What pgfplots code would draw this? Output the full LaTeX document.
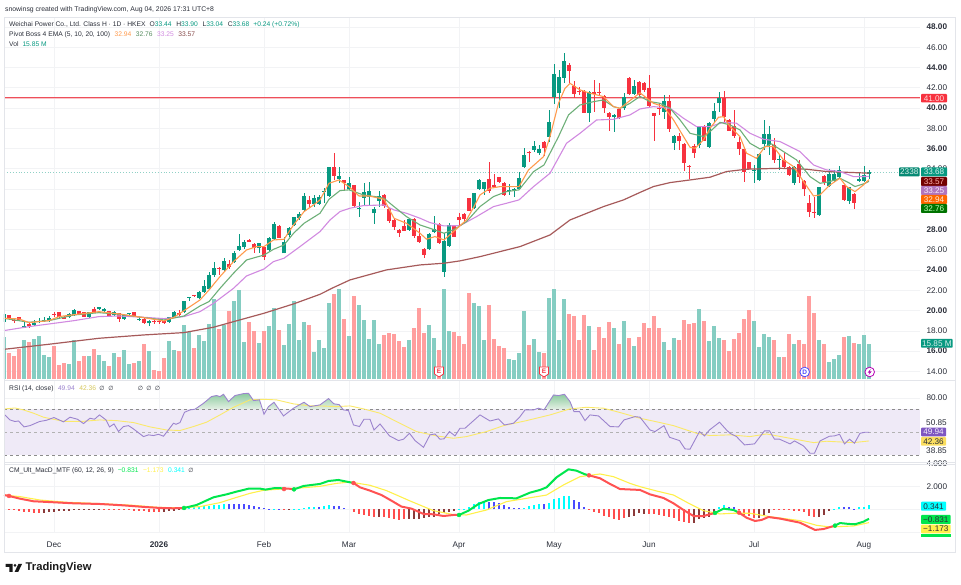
\documentclass[border=0pt]{standalone}
\usepackage{fontspec}
\setmainfont{Liberation Sans}
\newfontfamily\symfont{DejaVu Sans}
\usepackage{pgfplots}
\usepackage{pgfplotstable}
\pgfplotsset{compat=1.18}

\definecolor{up}{HTML}{089981}
\definecolor{dn}{HTML}{F7323F}
\definecolor{lvl}{HTML}{EE4F5A}
\definecolor{lvlpale}{HTML}{F9C4C8}
\definecolor{volup}{HTML}{85CDC2}
\definecolor{voldn}{HTML}{FF9E9E}
\definecolor{ema5}{HTML}{FF9A4D}
\definecolor{ema10}{HTML}{6DAF78}
\definecolor{ema20}{HTML}{D18AE0}
\definecolor{ema100}{HTML}{A65A5A}
\definecolor{gridc}{HTML}{F2F3F5}
\definecolor{framec}{HTML}{E3E5EA}
\definecolor{txt}{HTML}{2A2E39}
\definecolor{rsiline}{HTML}{9C84CE}
\definecolor{rsibox}{HTML}{7E57C2}
\definecolor{rsima}{HTML}{FBE96A}
\definecolor{rsiband}{HTML}{EFEAF7}
\definecolor{macdg}{HTML}{00E64D}
\definecolor{macdr}{HTML}{FF5252}
\definecolor{sigy}{HTML}{FFF04A}
\definecolor{hA}{HTML}{00FFFF}
\definecolor{hB}{HTML}{4B4BFF}
\definecolor{hR}{HTML}{FF4D4D}
\definecolor{hM}{HTML}{8C3A3A}
\definecolor{obtop}{HTML}{8CCB9F}
\definecolor{obbot}{HTML}{E6F1E6}

% i open high low close volume(M)
\pgfplotstableread{
i o h l c v
0 18.91 19.74 18.85 19.67 18.8
1 19.54 19.61 19.08 19.14 11.7
2 19.08 19.18 18.75 18.98 10.4
3 19.34 19.41 18.98 19.08 13.6
4 18.26 18.91 18.26 18.45 17.3
5 18.72 18.78 18.32 18.52 16.6
6 18.62 19.08 18.59 18.82 18.1
7 18.91 19.24 18.85 18.98 19.1
8 18.95 19.41 18.91 19.08 10.7
9 19.01 19.47 18.91 19.28 9.8
10 19.70 19.90 19.34 19.54 14.7
11 19.84 19.90 19.24 19.34 6.5
12 19.37 19.44 19.14 19.21 7.4
13 19.41 19.74 19.34 19.67 6.7
14 19.57 20.13 19.51 20.03 17.3
15 19.93 20.00 19.54 19.60 8.0
16 19.84 19.90 19.34 19.41 10.2
17 19.38 19.90 19.34 19.84 10.2
18 20.16 20.39 19.74 19.80 13.5
19 20.13 20.39 20.07 20.33 10.7
20 20.00 20.23 19.93 20.13 8.1
21 19.93 20.00 19.41 19.51 5.9
22 19.54 19.93 19.47 19.87 11.9
23 19.74 19.80 18.91 19.21 9.9
24 19.18 19.64 19.11 19.57 12.9
25 19.64 19.80 19.57 19.74 7.0
26 19.84 19.90 19.34 19.41 7.3
27 19.05 19.41 18.98 19.21 8.0
28 19.21 19.28 18.68 18.75 15.9
29 18.75 19.08 18.49 18.98 12.4
30 18.98 19.05 18.68 18.91 4.0
31 19.01 19.08 18.68 18.95 3.6
32 19.01 19.08 18.72 18.78 9.5
33 18.91 19.41 18.85 19.34 16.9
34 19.38 19.93 19.31 19.87 13.0
35 19.80 20.07 19.51 19.60 12.4
36 19.84 20.99 19.77 20.92 24.0
37 21.28 21.38 20.95 21.32 21.0
38 21.51 21.58 21.35 21.41 13.9
39 21.22 21.91 21.15 21.84 19.9
40 21.81 23.03 21.74 22.43 16.9
41 22.17 23.85 22.04 23.52 24.7
42 23.55 24.84 23.36 24.18 35.9
43 24.24 24.31 23.52 24.18 22.5
44 24.01 25.17 23.91 24.94 24.3
45 24.57 25.00 24.08 24.31 30.5
46 24.80 25.89 24.67 25.66 34.7
47 26.02 27.57 25.99 26.38 39.6
48 26.25 26.98 26.05 26.74 16.6
49 26.98 27.04 26.74 26.81 25.6
50 26.58 26.65 25.66 26.22 21.3
51 26.15 26.71 25.72 26.65 16.0
52 26.25 26.32 25.00 25.26 21.3
53 25.99 27.30 25.92 27.17 23.6
54 27.07 28.78 26.98 28.55 31.7
55 28.39 28.45 27.14 27.20 21.8
56 25.66 27.30 25.66 26.81 15.4
57 27.47 28.22 27.30 28.16 24.4
58 28.42 29.28 28.36 29.21 34.8
59 29.11 29.77 28.95 29.57 17.3
60 29.94 31.65 29.77 31.35 25.6
61 30.96 31.32 30.10 30.53 24.1
62 30.50 31.42 30.26 31.09 12.0
63 30.50 31.40 30.40 31.22 17.3
64 31.69 32.08 30.60 31.82 14.1
65 31.36 34.22 31.26 34.15 34.1
66 34.15 35.53 32.90 33.33 37.9
67 33.03 34.15 32.57 33.30 40.1
68 32.87 32.93 31.92 32.64 26.8
69 32.05 33.23 31.98 32.61 19.3
70 32.38 32.44 30.17 30.34 37.0
71 30.04 30.76 29.22 30.17 32.9
72 31.16 32.64 30.43 31.68 26.2
73 31.26 32.70 30.43 31.78 17.9
74 29.61 30.27 28.53 30.01 26.2
75 30.86 31.85 30.27 31.32 15.6
76 31.45 31.52 30.17 30.34 19.6
77 30.03 30.10 28.62 28.85 20.4
78 28.95 29.01 27.96 28.22 20.1
79 27.96 28.02 27.24 27.66 17.0
80 28.35 28.95 27.83 27.89 14.2
81 27.96 29.11 27.89 29.04 17.5
82 29.04 29.11 27.14 27.40 22.8
83 27.37 28.12 26.64 26.74 31.9
84 26.05 26.21 25.16 25.49 20.4
85 26.08 27.63 25.99 27.56 24.0
86 27.79 29.34 27.73 28.09 18.2
87 28.58 28.65 26.58 26.64 13.0
88 23.85 27.63 23.29 26.91 40.1
89 26.38 28.62 26.31 28.45 21.6
90 28.42 28.49 27.24 27.30 21.0
91 29.27 29.60 28.45 28.95 19.3
92 29.54 29.60 28.62 29.05 15.6
93 31.09 31.16 29.81 29.88 38.5
94 30.11 31.65 30.04 31.59 33.8
95 32.01 32.97 31.95 32.90 32.6
96 32.01 32.74 31.42 32.67 17.5
97 33.00 34.71 31.59 31.82 33.0
98 32.44 33.46 32.08 32.24 17.9
99 33.17 33.23 32.64 32.70 14.7
100 32.61 32.67 31.36 31.42 14.1
101 31.85 32.47 31.42 31.95 9.0
102 31.88 32.08 31.26 32.01 8.6
103 32.01 33.72 31.92 33.10 11.7
104 34.22 36.03 34.15 35.37 30.4
105 35.63 35.80 34.71 35.57 15.3
106 35.90 36.75 35.70 36.26 17.9
107 35.53 36.36 35.37 35.96 12.1
108 36.65 36.72 35.27 36.09 11.6
109 37.18 39.81 36.69 38.66 36.3
110 41.13 44.35 40.40 43.33 40.1
111 41.46 43.76 39.98 43.10 17.3
112 42.97 45.40 42.44 44.65 35.7
113 44.29 44.42 42.44 43.66 29.0
114 42.15 42.71 40.96 41.36 28.1
115 41.72 42.11 41.29 41.62 17.5
116 41.72 41.79 39.48 39.55 28.4
117 39.55 41.69 38.66 41.62 23.6
118 41.62 42.77 39.65 41.36 13.2
119 41.62 42.51 41.19 41.52 23.1
120 41.19 41.26 39.55 40.04 18.5
121 39.55 39.61 37.77 39.09 25.3
122 39.09 39.38 37.67 39.32 22.7
123 39.91 39.98 38.92 38.99 15.6
124 39.98 41.46 39.81 41.13 25.8
125 43.00 43.10 41.29 41.39 18.2
126 41.39 42.77 41.29 42.21 14.7
127 42.61 42.71 41.23 41.29 18.8
128 42.51 42.58 41.62 41.79 24.9
129 41.95 43.27 40.14 40.21 23.0
130 39.48 39.55 36.79 39.25 28.1
131 40.04 40.47 39.32 39.88 22.7
132 39.65 41.29 38.92 40.70 16.6
133 40.70 41.29 37.61 37.94 12.9
134 36.55 37.34 35.86 37.28 18.5
135 37.28 37.51 35.86 36.79 17.3
136 36.49 36.55 33.82 34.61 26.2
137 34.28 34.35 32.97 34.25 24.4
138 36.26 36.46 35.04 35.54 24.9
139 36.39 38.23 36.03 38.17 31.1
140 38.23 38.30 36.72 36.79 25.8
141 36.19 38.63 36.13 38.56 17.0
142 38.92 40.47 38.66 39.71 23.9
143 40.47 41.62 39.65 40.96 18.2
144 40.96 41.69 38.66 39.15 17.6
145 38.83 38.89 37.71 37.77 12.4
146 38.27 39.81 37.02 37.28 17.8
147 36.62 37.18 35.37 35.96 20.7
148 35.93 36.00 32.74 33.73 26.7
149 34.65 34.71 33.96 34.02 31.0
150 33.86 34.38 32.57 33.89 25.8
151 32.87 35.54 32.80 35.47 14.2
152 36.42 38.83 35.86 37.44 20.3
153 36.39 38.23 35.37 37.44 18.7
154 36.39 37.02 34.55 34.88 17.3
155 34.88 35.37 33.89 34.98 10.1
156 34.88 35.54 34.05 34.22 10.1
157 34.22 34.28 33.33 33.40 20.0
158 32.57 34.25 32.41 34.19 15.6
159 34.48 34.88 32.57 33.23 17.3
160 32.80 32.87 31.32 31.98 15.6
161 30.60 31.42 29.22 29.71 36.9
162 29.78 31.26 29.12 29.68 29.5
163 29.45 32.25 29.38 32.18 17.3
164 33.33 33.40 32.41 32.67 15.6
165 32.31 33.96 32.25 33.46 7.6
166 32.84 33.89 32.77 33.46 8.9
167 33.17 34.28 33.07 33.86 10.7
168 32.38 32.44 30.83 30.90 18.7
169 30.83 32.25 30.50 32.18 19.1
170 31.52 31.59 30.04 30.60 16.0
171 32.80 33.73 32.74 32.97 15.85
172 32.77 34.28 32.71 33.40 19.7
173 33.44 33.90 33.04 33.68 15.85
}\ohlc

\pgfplotsset{
  pane/.style={
    scale only axis, width=916pt, xmin=0, xmax=183.2,
    xtick={10,31,52,69,91,110,129,150,172},
    xticklabels={},
    xmajorgrids, ymajorgrids,
    major grid style={gridc, line width=0.7pt},
    axis line style={draw=none},
    major tick length=0pt,
    ytick pos=right,
    tick label style={font=\fontsize{8.2}{10}\selectfont, text=txt},
    yticklabel style={anchor=west, xshift=3pt},
    clip=true,
  },
  wick/.style={draw=none, no markers, error bars/.cd, y dir=both, y explicit,
    error mark=none, error bar style={line width=0.95pt, color=#1, solid}},
  body/.style={draw=none, no markers, error bars/.cd, y dir=both, y explicit,
    error mark=none, error bar style={line width=3.6pt, color=#1, solid}},
  isup/.style={restrict expr to domain={\thisrow{c}-\thisrow{o}}{0:100}},
  isdn/.style={restrict expr to domain={\thisrow{c}-\thisrow{o}}{-100:-0.00001}},
  hbar/.style={ycomb, color=#1, line width=1.9pt, mark=none},
  mline/.style={color=#1, line width=2pt, mark=none, line join=round},
  mdot/.style={only marks, mark=*, mark size=2pt, color=#1, mark options={solid}},
}

\newcommand{\pbox}[7]{%
  \fill[#5, rounded corners=0.8pt] (#1,{585-#2}) rectangle (#3,{585-#4});
  \node[text=#6, inner sep=0pt, font=\fontsize{8.2}{10}\selectfont] at ({(#1+#3)/2},{585-(#2+#4)/2}) {#7};}
\newcommand{\lab}[4][txt]{%
  \node[anchor=west, inner sep=0pt, text=#1, font=\fontsize{#2}{10}\selectfont] at (#3) {#4};}

\begin{document}
\begin{tikzpicture}[x=1pt, y=1pt]
\useasboundingbox (0,0) rectangle (961,585);

% price pane with volume
\begin{axis}[pane, at={(4pt,205.7pt)}, anchor=south west, height=361.7pt,
  ymin=13.22, ymax=48.93,
  ytick={14,16,...,48},
  yticklabels={14.00,\textbf{16.00},18.00,\textbf{20.00},22.00,\textbf{24.00},26.00,\textbf{28.00},,,34.00,\textbf{36.00},38.00,\textbf{40.00},42.00,\textbf{44.00},46.00,\textbf{48.00}},
]
\addplot[ycomb, voldn, line width=4pt, mark=none, isdn]
  table[x=i, y expr=13.22+\thisrow{v}*0.2221] {\ohlc};
\addplot[ycomb, volup, line width=4pt, mark=none, isup]
  table[x=i, y expr=13.22+\thisrow{v}*0.2221] {\ohlc};
\addplot[lvlpale, line width=1pt] coordinates {(0,40.92) (183.2,40.92)};
\addplot[lvl, line width=1.1pt] coordinates {(0,41) (183.2,41)};
\addplot[up!45!white, line width=0.9pt, dotted] coordinates {(0,33.68) (179,33.68)};
\addplot[isup, wick=up]
  table[x=i, y=o, y error plus expr=\thisrow{h}-\thisrow{o}, y error minus expr=\thisrow{o}-\thisrow{l}] {\ohlc};
\addplot[isup, body=up]
  table[x=i, y=o, y error plus expr=\thisrow{c}-\thisrow{o}, y error minus expr=0] {\ohlc};
\addplot[isdn, wick=dn]
  table[x=i, y=o, y error plus expr=\thisrow{h}-\thisrow{o}, y error minus expr=\thisrow{o}-\thisrow{l}] {\ohlc};
\addplot[isdn, body=dn]
  table[x=i, y=o, y error plus expr=0, y error minus expr=\thisrow{o}-\thisrow{c}] {\ohlc};
% EMA 100
\addplot[ema100, line width=1.2pt] coordinates {(0,16.18)(9,16.68)(19,17.27)(28,17.60)(36,17.83)(41.9,18.36)(45.9,18.91)(52,19.74)(57.9,20.66)(63.2,21.61)(65.9,22.28)(69.2,23.03)(76.5,24.02)(83.2,24.51)(88,24.68)(91.2,24.91)(95.2,25.33)(103.2,26.32)(109.2,27.47)(113.2,28.95)(119.9,30.27)(123.9,30.93)(127.2,31.67)(129.9,32.25)(133.2,32.64)(137.2,32.90)(141.2,33.17)(144.5,33.73)(148.5,33.96)(155.2,34.05)(160.5,33.96)(164.5,33.73)(169.9,33.63)(173,33.57)};
% EMA 20
\addplot[ema20, line width=1.1pt] coordinates {(0,18.03)(5,18.42)(9,18.68)(14,19.01)(19,19.41)(23,19.47)(28,19.34)(32,19.21)(36,19.41)(39.2,19.90)(41.9,20.72)(45.9,22.20)(48.5,23.42)(52,24.11)(53.9,24.84)(56,25.17)(59.2,26.32)(63.2,27.80)(65.2,28.95)(67.2,29.78)(69.2,30.11)(71.9,30.37)(75.9,30.43)(78,29.94)(80.5,29.61)(83.2,29.12)(85.2,28.69)(88,28.36)(91.2,28.39)(94.5,29.28)(97.9,30.27)(100.5,30.60)(103,30.93)(105.9,32.24)(109.2,33.56)(112.5,36.52)(115.2,37.51)(118.5,38.82)(121.9,38.89)(125.2,39.32)(127.2,39.91)(129.9,40.14)(133.2,39.98)(135.9,38.99)(138.5,38.17)(141.2,38.17)(143.9,38.59)(146.5,38.50)(149.2,37.51)(151.9,36.92)(155.2,36.69)(159.2,35.70)(161.9,34.38)(164.5,33.89)(167.2,33.73)(169.9,33.23)(173,33.25)};
% EMA 10
\addplot[ema10, line width=1.1pt] coordinates {(0,19.24)(5,18.85)(9,19.01)(14,19.57)(19,19.80)(23,19.64)(28,19.31)(32,19.08)(36,19.47)(39.2,20.46)(41,20.89)(43.2,22.20)(45.9,23.69)(48.5,25.00)(52,25.49)(53.9,26.05)(56,26.48)(57.9,27.63)(60,28.62)(63.2,29.61)(65,30.99)(67.2,31.85)(69,31.92)(71.9,31.42)(74.2,31.26)(76,31.09)(78,30.27)(80.5,29.28)(83.2,28.46)(85.2,28.13)(88,27.64)(89.9,27.97)(92.5,28.79)(95.2,30.27)(97.9,31.26)(100.5,31.75)(103,31.92)(105.9,33.72)(108,34.38)(110.9,37.18)(112.9,39.32)(115.2,40.30)(117.9,40.63)(119.9,40.80)(121.9,40.14)(123.2,39.97)(125.2,40.47)(127.2,41.15)(129.2,40.63)(131.2,40.47)(133.2,39.98)(135.2,38.83)(137.2,37.51)(139.9,37.18)(141.2,37.67)(143.2,38.59)(145.2,38.33)(147.2,37.84)(149.2,36.52)(151.2,35.96)(153.5,36.46)(155.9,35.70)(158.5,34.88)(161.2,33.23)(163.2,32.57)(165.2,32.74)(167.2,33.07)(168.9,32.64)(170.2,32.25)(171.9,32.51)(173,32.76)};
% EMA 5
\addplot[ema5, line width=1.1pt] coordinates {(0,19.24)(3,19.18)(5,18.82)(9,19.01)(11,19.41)(14,19.60)(19,19.90)(23,19.67)(28,19.31)(32,18.98)(34,19.34)(36,20.00)(39.2,21.05)(41,22.04)(43.2,23.36)(45.9,24.84)(48.5,25.99)(50.5,26.32)(52,26.32)(53.9,26.98)(56,27.04)(57.9,28.45)(60,29.77)(61.9,30.43)(63.2,30.93)(65,32.57)(67,32.90)(69,32.24)(71,31.32)(73,31.32)(76,30.99)(78,29.12)(80.5,28.62)(83.2,27.64)(84.5,27.05)(86.2,27.31)(88,26.98)(89.9,27.80)(92.5,28.96)(94,30.27)(95.2,31.42)(97.2,32.08)(99.2,32.24)(103,32.24)(104.9,33.89)(107.9,35.20)(109.2,37.18)(110.9,40.47)(112.2,41.95)(113.2,42.44)(115.2,41.79)(117.2,41.46)(119.9,41.13)(121.9,40.14)(123.2,39.97)(124.9,40.63)(127.2,41.50)(129.9,40.47)(131.9,40.14)(133.9,38.83)(135.5,37.51)(137.2,36.13)(138.2,36.03)(139.9,36.85)(141.2,38.00)(142.9,39.09)(143.9,39.15)(145.2,38.17)(147.2,37.18)(148.5,35.54)(150.5,35.04)(152.2,36.19)(153.9,36.19)(155.9,34.88)(157.9,34.22)(159.9,32.74)(161.9,31.32)(163.2,31.42)(165.2,32.41)(167.2,33.07)(168.5,32.25)(170.2,31.75)(171.9,32.41)(173,32.94)};
\end{axis}

% RSI pane
\begin{axis}[pane, at={(4pt,123pt)}, anchor=south west, height=81.5pt,
  ymin=23.9, ymax=95.4,
  ytick={40,60,80}, yticklabels={,,80.00},
]
\addplot[fill=rsiband, draw=none] coordinates {(0,30)(183.2,30)(183.2,70)(0,70)} --cycle;
\addplot[draw=none, shade, top color=obtop, bottom color=obbot] coordinates {(38.1,70)(39.9,75.4)(41.5,81.3)(42.5,82.2)(43.2,81.3)(43.9,83.3)(44.9,76.9)(46.2,82.2)(47.9,83.9)(48.9,84.2)(49.9,77.8)(51.1,78.4)(51.5,70)} --cycle;
\addplot[draw=none, shade, top color=obtop!50!obbot, bottom color=obbot] coordinates {(52.4,70)(52.9,72.5)(54,76.3)(54.9,70)} --cycle;
\addplot[draw=none, shade, top color=obtop!60!obbot, bottom color=obbot] coordinates {(57.6,70)(57.9,71.1)(60,76.3)(61.2,72.5)(63.2,74)(64.9,79.5)(66,74.9)(67,74.3)(67.9,69.6)} --cycle;
\addplot[draw=none, shade, top color=obtop, bottom color=obbot] coordinates {(108,70)(109.9,82.7)(110.9,82.2)(112.1,83.3)(113.2,76.9)(113.9,70)} --cycle;
\addplot[black!45, dashed, line width=0.7pt] coordinates {(0,70)(183.2,70)};
\addplot[black!30, dashed, line width=0.7pt] coordinates {(0,50)(183.2,50)};
\addplot[black!45, dashed, line width=0.7pt] coordinates {(0,30)(183.2,30)};
\addplot[rsima, line width=0.9pt] coordinates {(0.2,70.5)(2.2,71.3)(3.9,69.6)(5.9,66.7)(7.9,63.2)(11.9,59.6)(15.9,59.6)(19.2,60.8)(22.5,60.2)(25.9,58.5)(29.2,54.7)(32.5,52.0)(35.2,51.5)(37.9,55.0)(40.5,58.8)(43.2,65.2)(45.9,71.9)(49.2,78.4)(51.9,78.9)(54.5,78.4)(57.9,74.9)(61.2,73.1)(63.2,73.1)(66.5,72.5)(69.2,73.1)(71.9,70.5)(75.2,66.7)(78.5,59.4)(82.5,50.6)(86.5,46.8)(89.9,44.7)(92.5,46.2)(96.5,50.6)(99.9,55.8)(104.5,60.2)(109.2,65.2)(113.2,70.5)(116.5,71.9)(119.9,71.1)(123.2,67.3)(127.2,62.3)(131.2,58.5)(133.9,55.8)(138.5,49.1)(141.2,47.1)(145.2,47.7)(149.2,46.2)(152.5,48.5)(157.2,44.7)(161.9,40.9)(164.5,42.1)(169.9,40.9)(173,42.36)};
\addplot[rsiline, line width=0.9pt] coordinates {(0.2,65.2)(1.2,60.8)(2.2,59.4)(2.9,59.9)(4,54.7)(5.2,55.8)(7.1,59.4)(8.5,60.5)(10,62.9)(11.9,59.1)(13.2,63.2)(14.7,61.4)(15.9,57.6)(17.2,62.3)(18.1,61.4)(19.1,65.2)(20.4,60.8)(21.1,54.7)(22,57.3)(22.9,50.6)(23.9,55.0)(24.9,55.8)(25.9,52.9)(27.9,46.2)(28.9,47.7)(29.9,47.1)(30.9,48.2)(31.9,46.5)(33.9,57.9)(34.4,57.0)(35.2,58.5)(36.1,67.5)(37.2,69.6)(38.2,70.2)(39.9,75.4)(41.5,81.3)(42.5,82.2)(43.2,81.3)(43.9,83.3)(44.9,76.9)(46.2,82.2)(47.9,83.9)(48.9,84.2)(49.9,77.8)(51.1,78.4)(52,65.8)(52.9,72.5)(54,76.3)(55.9,64.3)(57.9,71.1)(60,76.3)(61.2,72.5)(63.2,74.0)(64.9,79.5)(66,74.9)(67,74.3)(67.9,69.6)(68.9,69.0)(69.9,56.4)(71.1,55.0)(72,61.4)(73.2,61.4)(74,52.0)(75.2,57.3)(77.1,46.8)(78.9,42.7)(79.9,43.9)(81.1,49.1)(82.2,42.7)(83.9,36.8)(85.2,47.7)(86.2,48.5)(87.2,43.9)(88,44.2)(89.1,50.6)(90.2,46.8)(91.2,53.5)(92.2,53.5)(95.2,65.2)(97.2,59.9)(98.9,61.7)(100.1,56.4)(101.9,57.9)(103.2,63.7)(104.2,69.6)(105.9,69.6)(106.9,71.1)(108,69.6)(109.9,82.7)(110.9,82.2)(112.1,83.3)(113.2,76.9)(114,68.1)(115.1,68.1)(116.2,60.2)(117.2,65.2)(118.9,64.3)(121.2,55.0)(122.9,54.7)(124,60.8)(126.2,63.7)(127.2,63.2)(129.2,52.0)(130.2,50.6)(132,55.8)(133.1,45.6)(135.1,42.7)(136.2,35.4)(137.2,35.1)(138.2,43.3)(139.1,50.6)(140.1,46.8)(141.1,52.0)(143.1,58.8)(144.5,52.0)(145.2,49.1)(146.5,46.2)(148.1,38.9)(150.1,39.8)(152.1,51.2)(153.1,51.2)(154.1,43.9)(155.1,43.9)(157.2,39.8)(158.1,42.4)(159.9,38.0)(161.2,31.6)(162.1,31.6)(163.2,42.4)(165.1,46.5)(166.1,46.8)(167.1,48.2)(168.1,39.8)(169.1,43.9)(170.1,40.4)(171.2,49.1)(172.2,50)(173,49.94)};
\end{axis}

% MACD pane
\begin{axis}[pane, at={(4pt,52pt)}, anchor=south west, height=69pt,
  ymin=-2.09, ymax=4,
  ytick={-2,0,2,4}, yticklabels={,,2.000,4.000},
  xticklabels={Dec,\textbf{2026},Feb,Mar,Apr,May,Jun,Jul,Aug},
  xticklabel style={yshift=-5pt},
]
\addplot[hbar=hA] coordinates {(36,.03)(37,.12)(38,.2)(39,.25)(40,.3)(41,.33)(42,.38)(43,.42)(44,.47)(54,.06)(58,.01)(59,.05)(60,.1)(61,.2)(62,.22)(64,.3)(65,.35)(91,.03)(92,.06)(93,.18)(94,.47)(95,.68)(96,.68)(104,.15)(105,.29)(106,.41)(107,.44)(109,.59)(110,.91)(111,1.03)(112,1.18)(113,1.2)(143,.18)(144,.35)(166,.03)(167,.24)(171,.2)(172,.24)(173,.341)};
\addplot[hbar=hB] coordinates {(45,.44)(46,.44)(47,.44)(48,.45)(49,.38)(50,.3)(51,.2)(52,.1)(53,.02)(55,.01)(63,.22)(66,.27)(67,.27)(68,.12)(97,.68)(98,.62)(99,.59)(100,.41)(101,.24)(102,.15)(103,.09)(108,.47)(114,.85)(115,.62)(116,.2)(145,.24)(146,.18)(168,.2)(169,.18)(170,.06)};
\addplot[hbar=hR] coordinates {(1,-.06)(2,-.08)(3,-.12)(4,-.2)(5,-.28)(6,-.32)(7,-.32)(20,-.05)(21,-.05)(22,-.06)(23,-.06)(24,-.08)(25,-.1)(26,-.12)(27,-.14)(28,-.18)(29,-.2)(30,-.22)(31,-.24)(56,-.05)(70,-.2)(71,-.44)(72,-.5)(73,-.59)(74,-.65)(76,-.7)(77,-.8)(78,-.85)(79,-.94)(80,-.88)(117,-.03)(118,-.2)(119,-.35)(120,-.59)(121,-.7)(122,-.85)(123,-.91)(124,-.8)(129,-.38)(130,-.44)(131,-.5)(132,-.59)(133,-.7)(134,-.8)(135,-1.06)(136,-1.15)(137,-1.24)(147,-.1)(148,-.5)(149,-.59)(150,-.76)(154,-.1)(155,-.1)(156,-.08)(157,-.1)(158,-.12)(159,-.14)(160,-.2)(161,-.6)(162,-.7)};
\addplot[hbar=hM] coordinates {(8,-.3)(9,-.28)(10,-.22)(11,-.18)(12,-.15)(13,-.12)(14,-.1)(15,-.08)(16,-.06)(17,-.05)(18,-.05)(19,-.05)(32,-.2)(33,-.16)(34,-.12)(35,-.06)(57,-.03)(75,-.65)(81,-.88)(82,-.85)(83,-.82)(84,-.8)(85,-.7)(86,-.65)(87,-.41)(88,-.3)(89,-.24)(90,-.12)(125,-.65)(126,-.59)(127,-.35)(128,-.41)(138,-1.18)(139,-.85)(140,-.8)(141,-.65)(142,-.44)(151,-.73)(152,-.59)(153,-.35)(163,-.65)(164,-.5)(165,-.12)};
% signal
\addplot[sigy, line width=1.1pt] coordinates {(0,1.26)(3.2,1.12)(7.2,.82)(12.5,.62)(19.2,.5)(25.9,.35)(30.5,.18)(35.2,.12)(39.2,.24)(43.2,.59)(45.9,.97)(49.2,1.41)(51.9,1.68)(56.5,1.82)(59.2,1.88)(63.2,2.03)(66.5,2.29)(69.2,2.41)(73.2,2.12)(76.5,1.65)(81.2,.74)(85.9,-.12)(89.9,-.47)(92.5,-.5)(96.5,-.06)(100.5,.68)(104.5,.97)(108.5,1.26)(111.9,2.15)(115.2,2.88)(119.2,3.12)(121.9,2.88)(125.2,2.29)(127.2,2.0)(130.5,1.62)(133.9,1.26)(137.2,.47)(139.9,-.12)(143.2,-.41)(145.9,-.35)(149.2,-.35)(153.2,-.65)(159.2,-1.0)(162.5,-1.41)(165.2,-1.56)(169.9,-1.47)(173,-1.173)};
% macd line, red below signal, green above
\addplot[mline=macdr] coordinates {(0,1.26)(1,1.18)(3.2,.94)(5.9,.71)(10,.62)(13.9,.53)(19.2,.47)(23.9,.35)(28,.21)(31.2,.12)(33.9,.09)(36,.12)};
\addplot[mline=macdg] coordinates {(36,.12)(38.5,.38)(41.9,1.06)(44.5,1.32)(46.5,1.56)(48.9,1.82)(51.3,1.82)(52.3,1.74)(54.2,1.88)(56,1.85)};
\addplot[mline=macdr] coordinates {(56,1.85)(57,1.82)(58,1.76)};
\addplot[mline=macdg] coordinates {(58,1.76)(59.9,2.06)(63.2,2.24)(64.9,2.5)(66.9,2.59)(68.9,2.41)(69.9,2.32)};
\addplot[mline=macdr] coordinates {(69.9,2.32)(71.2,1.94)(73.2,1.65)(75.5,1.26)(77.5,.76)(79.5,.24)(81.5,.06)(83.9,-.41)(85.9,-.44)(87.9,-.59)(89.9,-.5)(91,-.5)};
\addplot[mline=macdg] coordinates {(91,-.5)(92.9,-.12)(94.9,.47)(96.9,.82)(99.2,1.0)(102.5,.97)(105.2,1.47)(107.2,1.71)(108.5,1.94)(110.5,2.82)(112.9,3.53)(114.5,3.41)(116.2,3.09)(117,3.0)};
\addplot[mline=macdr] coordinates {(117,3.0)(119.2,2.74)(121.2,2.24)(123.2,1.79)(127.2,1.71)(129.2,1.32)(131.9,1.0)(133.9,.53)(135.9,-.06)(137.9,-.59)(139.9,-.59)(142.2,-.32)};
\addplot[mline=macdg] coordinates {(142.2,-.32)(143.9,.06)(145.9,-.06)(147,-.29)};
\addplot[mline=macdr] coordinates {(147,-.29)(148.5,-.74)(150.2,-1.03)(151.5,-.94)(152.9,-.68)(155.2,-.82)(159.2,-1.18)(162.2,-1.82)(163.9,-1.74)(166.2,-1.44)};
\addplot[mline=macdg] coordinates {(166.2,-1.44)(167.2,-1.21)(168.9,-1.29)(170.2,-1.32)(171.9,-1.09)(173,-.831)};
\addplot[mdot=macdr] coordinates {(1,1.18)(56,1.79)(69.9,2.32)(117,3.0)(147,-.29)};
\addplot[mdot=macdg] coordinates {(36,.12)(58,1.76)(91,-.5)(142.2,-.32)(166.2,-1.44)};
\end{axis}

% frame and pane separators
\draw[framec, line width=0.7pt] (4,{585-17.6}) rectangle (955,{585-552});
\draw[framec, line width=0.7pt] (4,{585-380}) -- (955,{585-380});
\draw[framec, line width=0.7pt] (4,{585-462}) -- (955,{585-462});
\draw[framec, line width=0.7pt] (4,{585-464}) -- (955,{585-464});

% header and legends
\lab{6.85}{5,575}{snowinsg created with TradingView.com, Aug 04, 2026 17:31 UTC+8}
\lab{6.7}{9,560}{Weichai Power Co., Ltd. Class H · 1D · HKEX\hspace{4pt}O\textcolor{up}{33.44}\hspace{4.7pt}H\textcolor{up}{33.90}\hspace{4.7pt}L\textcolor{up}{33.04}\hspace{4.7pt}C\textcolor{up}{33.68}\hspace{4pt}\textcolor{up}{+0.24 (+0.72\%)}}
\lab{6.7}{9,550.3}{Pivot Boss 4 EMA (5, 10, 20, 100)\hspace{4.5pt}\textcolor{ema5}{32.94}\hspace{4.5pt}\textcolor{ema10!80!black}{32.76}\hspace{4.5pt}\textcolor{ema20}{33.25}\hspace{4.5pt}\textcolor{ema100!80!black}{33.57}}
\lab{6.7}{9,541}{Vol\hspace{4pt}\textcolor{up}{15.85 M}}
\lab{6.7}{9,{585-388.3}}{RSI (14, close)\hspace{4.5pt}\textcolor{rsiline}{49.94}\hspace{4.5pt}\textcolor{rsima!85!black}{42.36}}
\foreach \xx in {102,111,140.6,149,157.6} {\node[inner sep=0pt, text=txt, font=\symfont\fontsize{6}{8}\selectfont] at (\xx,{585-388.3}) {∅};}
\lab{6.7}{9,{585-470.7}}{CM\_Ult\_MacD\_MTF (60, 12, 26, 9)\hspace{4pt}\textcolor{macdg}{−0.831}\hspace{4.5pt}\textcolor{sigy}{−1.173}\hspace{4.5pt}\textcolor{hA}{0.341}}
\node[inner sep=0pt, text=txt, font=\symfont\fontsize{6}{8}\selectfont] at (191,{585-470.7}) {∅};

% event badges on the volume pane
\foreach \xx in {439,544} {
  \fill[white, draw=dn, line width=0.7pt] (\xx-4.5,{585-367}) -- (\xx+4.5,{585-367}) -- (\xx+4.5,{585-374}) -- (\xx,{585-377}) -- (\xx-4.5,{585-374}) -- cycle;
  \node[inner sep=0pt, text=dn, font=\bfseries\fontsize{6.5}{8}\selectfont] at (\xx,{585-371}) {E};
}
\fill[white, draw=blue!70!white, line width=0.8pt] (804.7,{585-372}) circle (4.8);
\node[inner sep=0pt, text=blue!70!white, font=\bfseries\fontsize{6.5}{8}\selectfont] at (804.7,{585-372}) {D};
\fill[white, draw=violet!60!magenta, line width=0.8pt] (869.7,{585-372}) circle (4.8);
\fill[violet!60!magenta] (870.7,{585-369}) -- (867.7,{585-372.6}) -- (869.6,{585-372.6}) -- (868.7,{585-375}) -- (871.7,{585-371.4}) -- (869.8,{585-371.4}) -- cycle;

% scale labels
\pbox{899}{167.5}{919.5}{176.5}{up!90!black}{white!85!up}{2338}
\pbox{921}{167.5}{947}{176.5}{up}{white!85!up}{33.68}
\pbox{921}{177}{947}{186}{red!45!black}{white!70!red}{33.57}
\pbox{921}{186}{947}{195}{ema20!85!black}{white!85!ema20}{33.25}
\pbox{921}{195}{947}{204}{orange!80!red}{white!85!orange}{32.94}
\pbox{921}{204}{947}{213}{green!45!black}{white!75!green}{32.76}
\pbox{921}{94}{947}{102.5}{dn}{white!85!red}{41.00}
\pbox{921}{339}{952.7}{347.7}{up}{white!85!up}{15.85 M}
\node[anchor=west, inner sep=0pt, text=txt, font=\fontsize{8.2}{10}\selectfont] at (926,{585-423}) {50.85};
\pbox{921}{427.7}{946}{436.3}{rsibox}{white!90!rsibox}{49.94}
\pbox{921}{437}{946}{445.7}{rsima!90!orange}{txt}{42.36}
\node[anchor=west, inner sep=0pt, text=txt, font=\fontsize{8.2}{10}\selectfont] at (926,{585-451}) {38.85};
\pbox{921}{501.7}{946}{510.7}{hA}{txt}{0.341}
\pbox{921}{515}{950.7}{524}{macdg}{txt}{−0.831}
\pbox{921}{524.7}{950.7}{533.3}{sigy}{txt}{−1.173}
\fill[macdg] (921,{585-534}) rectangle (950.7,{585-536.7});

% logo
\fill[black!90] (5.7,{585-564}) -- (12.5,{585-564}) -- (12.5,{585-572}) -- (9.4,{585-572}) -- (9.4,{585-567}) -- (5.7,{585-567}) -- cycle;
\fill[black!90] (15,{585-565.4}) circle (1.4);
\fill[black!90] (18.4,{585-564}) -- (22,{585-564}) -- (18.2,{585-572}) -- (14.6,{585-572}) -- cycle;
\node[anchor=west, inner sep=0pt, text=black!90, font=\bfseries\fontsize{11.2}{13}\selectfont] at (25.5,{585-568}) {TradingView};
\end{tikzpicture}
\end{document}
